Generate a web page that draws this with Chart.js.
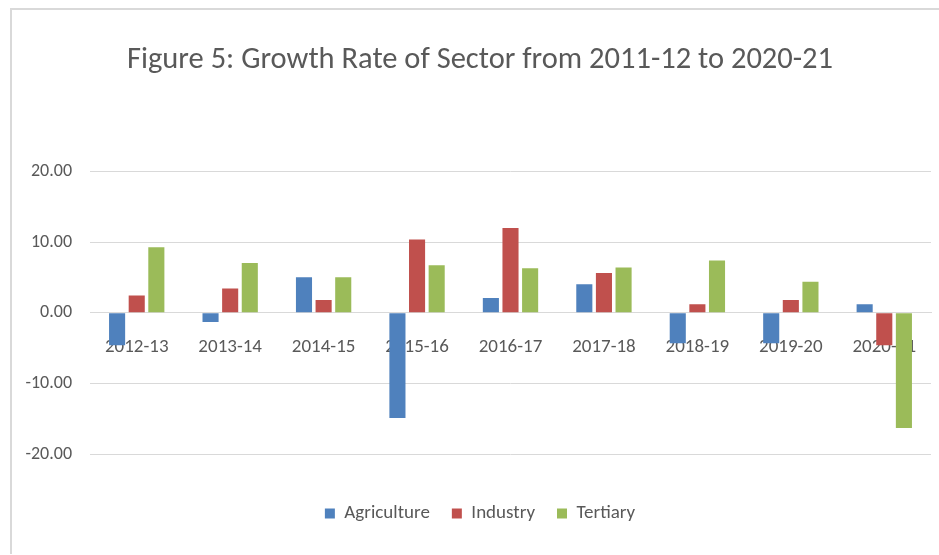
<!DOCTYPE html>
<html>
<head>
<meta charset="utf-8">
<script src="https://cdn.jsdelivr.net/npm/chart.js@4"></script>
<style>
  body { margin: 0; background: #fff; overflow: hidden; }
  #wrap { position: relative; width: 939px; height: 555px; overflow: hidden; }
  #growthChart { position: absolute; left: 0; top: 0; }
  #frame {
    position: absolute; left: 10px; top: 8px; right: -5px; bottom: 1px;
    border-left: 2px solid #d9d9d9; border-top: 2px solid #d9d9d9;
    pointer-events: none;
  }
</style>
</head>
<body>
<div id="wrap">
  <canvas id="growthChart" width="960" height="555"></canvas>
  <div id="frame"></div>
</div>
<script>
const years = ["2012-13", "2013-14", "2014-15", "2015-16", "2016-17", "2017-18", "2018-19", "2019-20", "2020-21"];
const agriculture = [-4.6, -1.3, 5.05, -14.9, 2.1, 4.05, -4.3, -4.3, 1.2];
const industry = [2.46, 3.45, 1.8, 10.4, 12.0, 5.65, 1.2, 1.8, -4.6];
const tertiary = [9.3, 7.07, 5.05, 6.75, 6.3, 6.4, 7.4, 4.4, -16.3];

const font = "Carlito, 'Liberation Sans Narrow', 'Open Sans', sans-serif";
const ctx = document.getElementById("growthChart").getContext("2d");

new Chart(ctx, {
  type: "bar",
  data: {
    labels: years,
    datasets: [
      { label: "Agriculture", data: agriculture, backgroundColor: "#4f81bd" }, // blue
      { label: "Industry", data: industry, backgroundColor: "#c0504d" }, // red
      { label: "Tertiary", data: tertiary, backgroundColor: "#9bbb59" }, // green
    ],
  },
  options: {
    responsive: false,
    animation: false,
    datasets: { bar: { categoryPercentage: 0.63, barPercentage: 0.82 } },
    layout: { padding: { top: 10, left: 15, right: 15, bottom: 22 } },
    plugins: {
      title: {
        display: true,
        text: "Figure 5: Growth Rate of Sector from 2011-12 to 2020-21",
        color: "#595959",
        font: { family: font, size: 30.5, weight: "normal" },
        padding: { top: 32, bottom: 93 },
      },
      legend: {
        position: "bottom",
        title: { display: true, text: " ", font: { size: 10 }, padding: { top: 0, bottom: 16 } },
        labels: {
          color: "#595959",
          font: { family: font, size: 19 },
          boxWidth: 10,
          boxHeight: 10,
          padding: 22,
        },
      },
      tooltip: { enabled: false },
    },
    scales: {
      x: {
        position: { y: 0 },
        z: 1,
        grid: { display: false },
        border: { color: "#d9d9d9" },
        ticks: { color: "#595959", font: { family: font, size: 19 }, padding: 15, maxRotation: 0 },
      },
      y: {
        min: -20,
        max: 20,
        afterFit: (scale) => { scale.width = 75; }, // plot left edge at x=90
        grid: { color: "#d9d9d9", drawTicks: false },
        border: { display: false },
        ticks: {
          stepSize: 10,
          color: "#595959",
          font: { family: font, size: 18 },
          padding: 18,
          callback: (v) => v.toFixed(2),
        },
      },
      // empty spacer on the right so the plot ends at x=931
      spacer: {
        type: "linear",
        axis: "y",
        position: "right",
        afterFit: (scale) => { scale.width = 14; },
        grid: { display: false },
        border: { display: false },
        ticks: { display: false },
      },
    },
  },
});
</script>
</body>
</html>
